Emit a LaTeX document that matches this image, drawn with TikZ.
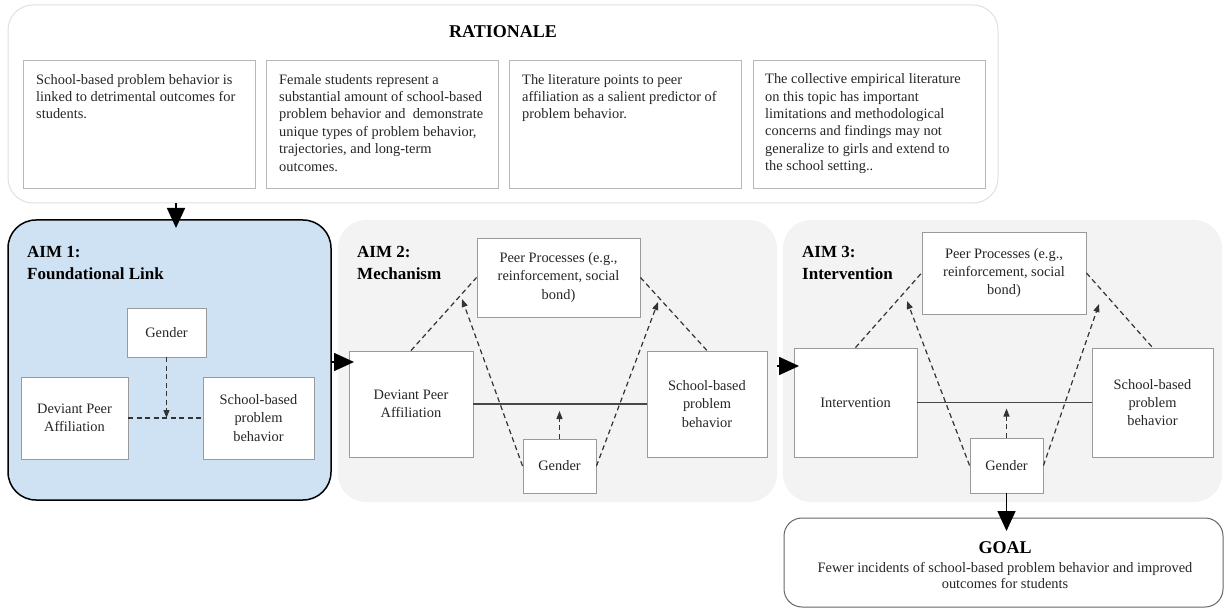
\documentclass[tikz,border=0pt]{standalone}
\usepackage{fontspec}
\setmainfont{Liberation Serif}
\usetikzlibrary{arrows.meta,calc}
\definecolor{ratline}{HTML}{E0E0E0}
\definecolor{rboxline}{HTML}{B8B8B8}
\definecolor{boxline}{HTML}{9A9A9A}
\definecolor{aimblue}{HTML}{CFE2F3}
\definecolor{aimgray}{HTML}{F3F3F3}
\definecolor{txtcol}{HTML}{262626}
\definecolor{dashcol}{HTML}{333333}
\definecolor{goalline}{HTML}{666666}
\begin{document}
\begin{tikzpicture}[x=1pt,y=-1pt,
  ratbox/.style={draw=rboxline, line width=0.9pt, fill=white, minimum width=232, minimum height=128, inner sep=0},
  rattext/.style={anchor=north west, inner sep=0, align=left, font=\fontsize{14.4}{17.4}\selectfont, text=txtcol},
  cbox/.style={draw=boxline, line width=0.9pt, fill=white, inner sep=2, align=center, font=\fontsize{14.4}{18.2}\selectfont, text=txtcol},
  panel/.style={rounded corners=28, inner sep=0},
  aimtitle/.style={anchor=north west, inner sep=0, align=left, font=\bfseries\fontsize{17}{22}\selectfont},
  flow/.style={-{Triangle[length=20pt,width=18pt]}, line width=1.6pt, draw=black},
  dline/.style={dash pattern=on 5pt off 3.5pt, line width=1.2pt, draw=dashcol},
  darr/.style={dline, -{Triangle[length=8pt,width=6pt]}},
  sline/.style={line width=1.4pt, draw=dashcol!90}
]
\useasboundingbox (0,0) rectangle (1225,609);

% ---------- RATIONALE ----------
\node[panel, rounded corners=25, draw=ratline, line width=1pt, fill=white, minimum width=990, minimum height=198] (rat) at (503,104) {};
\node[anchor=base, inner sep=0, font=\bfseries\fontsize{18}{20}\selectfont] (rattitle) at (503,38) {RATIONALE};

\node[ratbox] (r1) at (139,124) {};
\node[ratbox] (r2) at (382,124) {};
\node[ratbox] (r3) at (625.5,124) {};
\node[ratbox] (r4) at (869,124) {};

\node[rattext] (r1t) at (36,73.5) {\rule{0pt}{10.5pt}School-based problem behavior is\\linked to detrimental outcomes for\\students.};
\node[rattext] (r2t) at (279,73.5) {\rule{0pt}{10.5pt}Female students represent a\\substantial amount of school-based\\problem behavior and\ \ demonstrate\\unique types of problem behavior,\\trajectories, and long-term\\outcomes.};
\node[rattext] (r3t) at (522,73.5) {\rule{0pt}{10.5pt}The literature points to peer\\affiliation as a salient predictor of\\problem behavior.};
\node[rattext] (r4t) at (765,73) {\rule{0pt}{10.5pt}The collective empirical literature\\on this topic has important\\limitations and methodological\\concerns and findings may not\\generalize to girls and extend to\\the school setting..};

% ---------- PANELS ----------
\node[panel, fill=aimblue, draw=black, line width=1.5pt, minimum width=323, minimum height=280] (aim1) at (169.5,360) {};
\node[panel, fill=aimgray, minimum width=439, minimum height=282] (aim2) at (557.5,361) {};
\node[panel, fill=aimgray, minimum width=439, minimum height=282] (aim3) at (1002.5,361) {};

\node[aimtitle] (t1) at (27,245) {\rule{0pt}{12pt}AIM 1:\\Foundational Link};
\node[aimtitle] (t2) at (357,245) {\rule{0pt}{12pt}AIM 2:\\Mechanism};
\node[aimtitle] (t3) at (802,245) {\rule{0pt}{12pt}AIM 3:\\Intervention};

% ---------- AIM 1 ----------
\node[cbox, minimum width=79, minimum height=49] (g1) at (166.5,332.5) {Gender};
\node[cbox, minimum width=107, minimum height=82] (d1) at (74.5,418) {Deviant Peer\\Affiliation};
\node[cbox, minimum width=111, minimum height=82] (s1) at (258.5,418) {School-based\\problem\\behavior};
\draw[dline] (d1.east) -- (s1.west);
\draw[darr] (g1.south) -- (g1.south |- d1.east);

% ---------- AIM 2 ----------
\node[cbox, minimum width=163, minimum height=79] (p2) at (558.5,277.5) {Peer Processes (e.g.,\\reinforcement, social\\bond)};
\node[cbox, minimum width=124, minimum height=106] (d2) at (411,404) {Deviant Peer\\Affiliation};
\node[cbox, minimum width=120, minimum height=106] (s2) at (707,404) {School-based\\problem\\behavior};
\node[cbox, minimum width=73, minimum height=54] (g2) at (559.5,466) {Gender};
\draw[sline] (d2.east) -- (s2.west);
\draw[dline] (d2.north) -- (p2.west);
\draw[dline] (p2.east) -- (s2.north);
\coordinate (g2l) at (462,299);
\coordinate (g2r) at (658,302);
\draw[darr] (g2.west) -- (g2l);
\draw[darr] (g2.east) -- (g2r);
\draw[darr, shorten >=7pt] (g2.north) -- (g2.north |- d2.east);

% ---------- AIM 3 ----------
\node[cbox, minimum width=164, minimum height=82] (p3) at (1004,273) {Peer Processes (e.g.,\\reinforcement, social\\bond)};
\node[cbox, minimum width=123, minimum height=109] (i3) at (855.5,402.5) {Intervention};
\node[cbox, minimum width=121, minimum height=109] (s3) at (1152.5,402.5) {School-based\\problem\\behavior};
\node[cbox, minimum width=73, minimum height=55] (g3) at (1006.5,465.5) {Gender};
\draw[sline] (i3.east) -- (s3.west);
\draw[dline] (i3.north) -- (p3.west);
\draw[dline] (p3.east) -- (s3.north);
\coordinate (g3l) at (907,301);
\coordinate (g3r) at (1099,304);
\draw[darr] (g3.west) -- (g3l);
\draw[darr] (g3.east) -- (g3r);
\draw[darr, shorten >=6pt] (g3.north) -- (g3.north |- i3.east);

% ---------- GOAL ----------
\node[panel, rounded corners=18, draw=goalline, line width=1pt, fill=white, minimum width=439, minimum height=89] (goal) at (1003.5,562.5) {};
\node[anchor=base, inner sep=0, font=\bfseries\fontsize{18}{20}\selectfont] (goaltitle) at (1005,553) {GOAL};
\node[anchor=north, inner sep=0, align=center, font=\fontsize{14.4}{16.5}\selectfont, text=txtcol] (goaltext) at (1005,561) {\rule{0pt}{11pt}Fewer incidents of school-based problem behavior and improved\\outcomes for students};

% ---------- FLOW ARROWS ----------
\coordinate (a1in) at (176,228);
\draw[flow] (a1in |- rat.south) -- (a1in);
\coordinate (a2in) at (354,362);
\draw[flow] (aim1.east |- a2in) -- (a2in);
\coordinate (a3in) at (799,366);
\draw[flow] (aim2.east |- a3in) -- (a3in);
\coordinate (goalin) at (1006.5,531);
\draw[flow] (g3.south) -- (goalin);
\end{tikzpicture}
\end{document}
